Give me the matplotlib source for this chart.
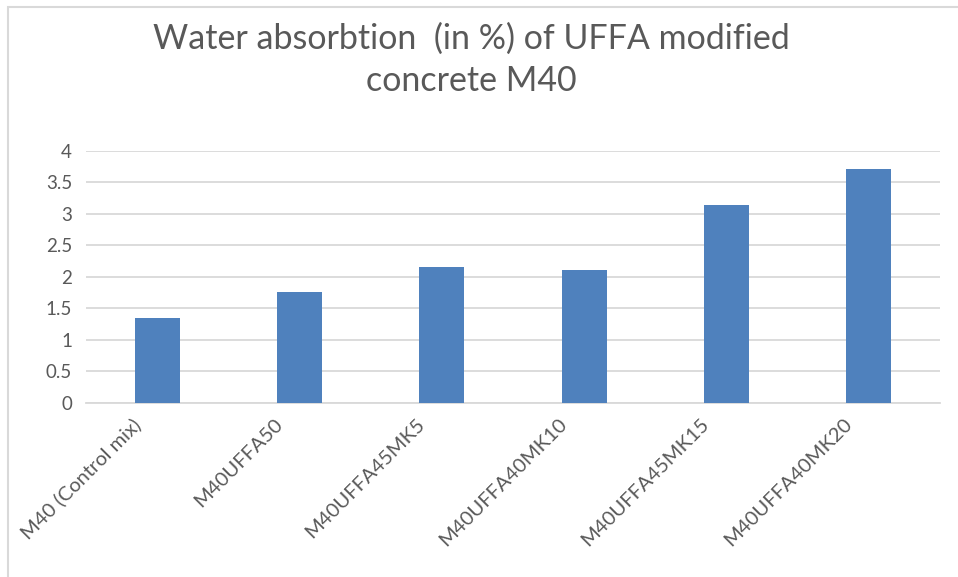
import matplotlib
matplotlib.use('Agg')
import matplotlib.pyplot as plt
import matplotlib.transforms as mtransforms
from matplotlib.patches import Rectangle
import numpy as np

mixes = ['M40 (Control mix)', 'M40UFFA50', 'M40UFFA45MK5',
         'M40UFFA40MK10', 'M40UFFA45MK15', 'M40UFFA40MK20']
absorption = [1.34, 1.75, 2.15, 2.10, 3.13, 3.71]
yticks = [0, 0.5, 1, 1.5, 2, 2.5, 3, 3.5, 4]

text_color = '#595959'
grid_color = '#D9D9D9'
bar_color = '#4F81BD'

plt.rcParams['font.family'] = ['Lato', 'DejaVu Sans']

fig = plt.figure(figsize=(9.58, 5.77), dpi=100)
ax = fig.add_axes([0.0898, 0.302, 0.8914, 0.437])

x = np.arange(len(mixes))
ax.bar(x, absorption, width=0.315, color=bar_color, zorder=3)

ax.set_xlim(-0.5, len(mixes) - 0.5)
ax.set_ylim(0, 4)
ax.set_yticks(yticks)
ax.set_yticklabels(['%g' % t for t in yticks])
ax.yaxis.grid(True, color=grid_color, linewidth=1.3, zorder=0)
ax.tick_params(axis='y', length=0, pad=10, labelsize=13.5, labelcolor=text_color)
ax.tick_params(axis='x', length=0, pad=9, labelsize=14.5, labelcolor=text_color)

ax.set_xticks(x)
ax.set_xticklabels(mixes, rotation=45, ha='right', rotation_mode='anchor')
# nudge rotated labels left, like Excel does
shift = mtransforms.ScaledTranslation(-26 / 100, 0, fig.dpi_scale_trans)
for lab in ax.get_xticklabels():
    lab.set_transform(lab.get_transform() + shift)

for side in ['top', 'right', 'left']:
    ax.spines[side].set_visible(False)
ax.spines['bottom'].set_color(grid_color)
ax.spines['bottom'].set_linewidth(1.3)

fig.text(471 / 958, 1 - 39 / 577, 'Water absorbtion  (in %) of UFFA modified',
         ha='center', va='center', fontsize=24.5, color=text_color)
fig.text(471 / 958, 1 - 81 / 577, 'concrete M40',
         ha='center', va='center', fontsize=24.5, color=text_color)

# chart area border (cut off at right and bottom)
fig.patches.append(Rectangle((8 / 958, -0.05), 1.0, 1 - 6.5 / 577 + 0.05,
                             transform=fig.transFigure, fill=False,
                             edgecolor=grid_color, linewidth=1.5))

fig.savefig('out.png', dpi=100)
